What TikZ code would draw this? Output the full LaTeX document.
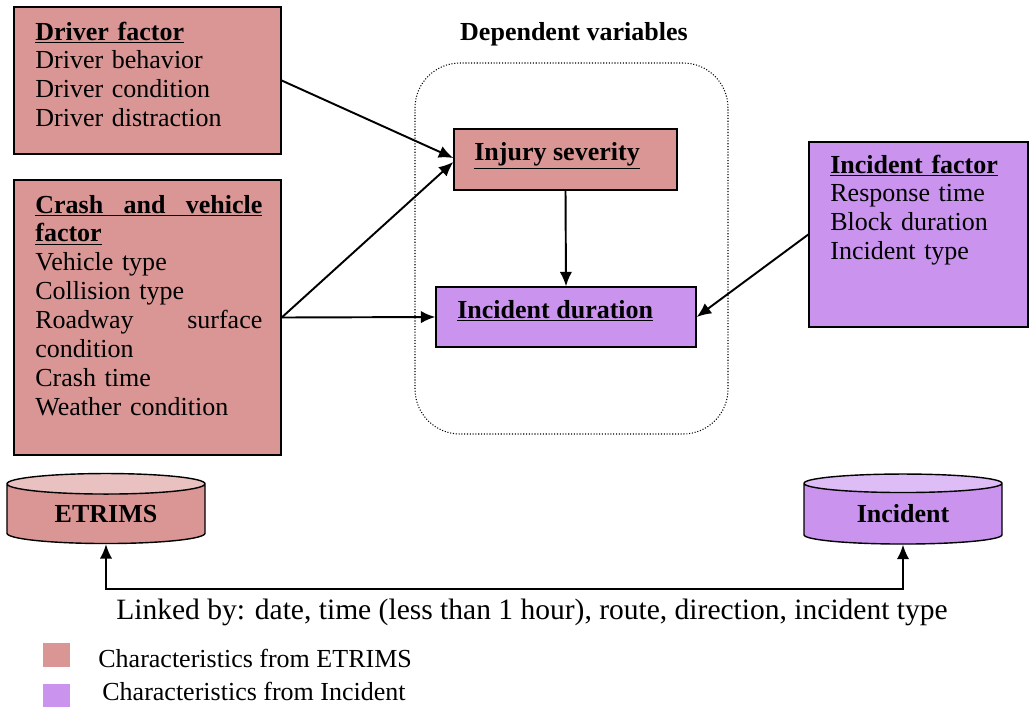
\documentclass[tikz,border=0pt]{standalone}
\usepackage{fontspec}
\setmainfont{Liberation Serif}
\usetikzlibrary{shapes.geometric,arrows.meta}

\definecolor{etrimsred}{HTML}{D99694}
\definecolor{etrimstop}{HTML}{E9C1C0}
\definecolor{incpurple}{HTML}{C993EE}
\definecolor{inctop}{HTML}{DEBDF6}

\begin{document}
\begin{tikzpicture}[x=0.2mm,y=-0.2mm,
  every node/.style={font=\fontsize{14.8}{16.45}\selectfont},
  box/.style={draw, line width=0.8pt, inner sep=0pt},
  lbl/.style={inner sep=0pt, anchor=base west, align=left},
  arr/.style={line width=1.1pt, -{Latex[length=2.9mm,width=2.5mm]}},
  db/.style={cylinder, shape border rotate=90, draw, line width=0.8pt, aspect=0.2,
    minimum width=39.6mm, minimum height=14mm, inner sep=0pt,
    cylinder uses custom fill, font=\fontsize{14.8}{16.45}\selectfont\bfseries}]
\useasboundingbox (0,0) rectangle (1029,709);

\node[box, fill=etrimsred, minimum width=53.4mm, minimum height=29.4mm] (drv) at (147.5,80.5) {};
\node[box, fill=etrimsred, minimum width=53.4mm, minimum height=55mm] (crsh) at (147.5,317.5) {};
\node[box, fill=incpurple, minimum width=43.8mm, minimum height=37mm] (incf) at (918.5,234.5) {};

\node[lbl, text width=50mm] (drvtxt) at (35,40) {\underline{\textbf{Driver factor}}\\Driver behavior\\Driver condition\\Driver distraction};
\node[lbl, text width=45.4mm] (crshtxt) at (35,213) {\underline{\makebox[45.4mm]{\textbf{Crash\hfill and\hfill vehicle}}}\\
  \underline{\textbf{factor}}\\Vehicle type\\Collision type\\\makebox[45.4mm]{Roadway\hfill surface}\\condition\\Crash time\\Weather condition};
\node[lbl, text width=39mm] (inctxt) at (830,173) {\underline{\textbf{Incident factor}}\\Response time\\Block duration\\Incident type};

\node[draw, densely dotted, line width=0.6pt, rounded corners=9mm, minimum width=62.6mm, minimum height=74.2mm] (dep) at (571.5,248.5) {};
\node[inner sep=0pt, anchor=base] (deptxt) at (574,40) {\textbf{Dependent variables}};

\node[box, fill=etrimsred, minimum width=44.6mm, minimum height=12.2mm] (inj) at (565.5,159.5) {};
\node[lbl] (injtxt) at (474,160) {\underline{\textbf{Injury severity}}};
\node[box, fill=incpurple, minimum width=52mm, minimum height=12mm] (dur) at (566,317) {};
\node[lbl] (durtxt) at (457,318) {\underline{\textbf{Incident duration}}};

\draw[arr] (drv.east) -- ([yshift=0.3mm]inj.west);
\draw[arr] (crsh.east) -- ([yshift=-0.5mm]inj.west);
\draw[arr] (crsh.east) -- (dur.west);
\draw[arr] (inj.south) -- (dur.north);
\draw[arr] (incf.west) -- (dur.east);

\node[db, cylinder end fill=etrimstop, cylinder body fill=etrimsred] (etrims) at (106,514) {ETRIMS};
\node[db, cylinder end fill=inctop, cylinder body fill=incpurple] (incdb) at (903,514) {Incident};

\coordinate (lnk) at (500,589);
\draw[line width=1.1pt, {Latex[length=2.9mm,width=2.5mm]}-{Latex[length=2.9mm,width=2.5mm]}] (etrims.south) |- (lnk) -| (incdb.south);
\node[inner sep=0pt, anchor=base, font=\fontsize{16.8}{19}\selectfont] (lnktxt) at (532,619) {Linked by: date, time (less than 1 hour), route, direction, incident type};

\node[fill=etrimsred, inner sep=0pt, minimum width=5.4mm, minimum height=4.8mm] (lega) at (56.5,655) {};
\node[lbl] (legatxt) at (98,667) {Characteristics from ETRIMS};
\node[fill=incpurple, inner sep=0pt, minimum width=5.4mm, minimum height=4.6mm] (legb) at (56.5,695.5) {};
\node[lbl] (legbtxt) at (102,700) {Characteristics from Incident};
\end{tikzpicture}
\end{document}
